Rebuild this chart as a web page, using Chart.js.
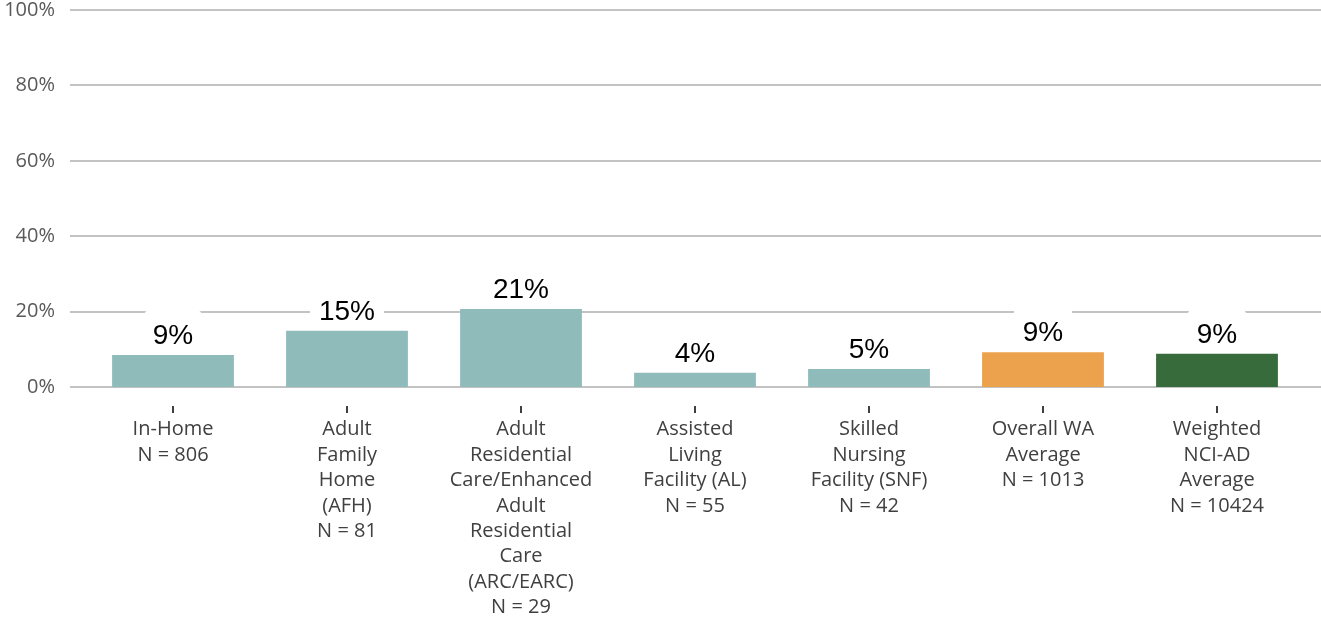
<!DOCTYPE html>
<html>
<head>
<meta charset="utf-8">
<script src="https://cdn.jsdelivr.net/npm/chart.js@4.4.1/dist/chart.umd.min.js"></script>
<style>
  html, body { margin: 0; padding: 0; background: #fff; }
  #wrap { width: 1321px; height: 618px; position: relative; }
</style>
</head>
<body>
<div id="wrap"><canvas id="chart-canvas"></canvas></div>
<script>
// categories (each one split over lines like the original axis)
const categories = [
    ["In-Home", "N = 806"],
    ["Adult", "Family", "Home", "(AFH)", "N = 81"],
    ["Adult", "Residential", "Care/Enhanced", "Adult", "Residential", "Care", "(ARC/EARC)", "N = 29"],
    ["Assisted", "Living", "Facility (AL)", "N = 55"],
    ["Skilled", "Nursing", "Facility (SNF)", "N = 42"],
    ["Overall WA", "Average", "N = 1013"],
    ["Weighted", "NCI-AD", "Average", "N = 10424"]
];

// percent values
const percentValues = [8.5, 14.9, 20.7, 3.8, 4.8, 9.2, 8.8];

const barColors = ["#8fbcbb", "#8fbcbb", "#8fbcbb", "#8fbcbb", "#8fbcbb", "#eca14d", "#386b3b"];

const yTicks = [0, 20, 40, 60, 80, 100];

// grid lines run wider than the plot area, so draw them by hand
const gridLines = {
    id: "gridLines",
    beforeDatasetsDraw(chart) {
        const ctx = chart.ctx;
        const y = chart.scales.y;
        ctx.save();
        ctx.strokeStyle = "#c3c3c3";
        ctx.lineWidth = 2;
        yTicks.forEach(t => {
            const py = Math.round(y.getPixelForValue(t));
            ctx.beginPath();
            ctx.moveTo(70, py);
            ctx.lineTo(chart.width, py);
            ctx.stroke();
        });
        // little tick marks under the axis
        const x = chart.scales.x;
        const bottom = chart.chartArea.bottom;
        ctx.strokeStyle = "#404040";
        ctx.lineWidth = 2;
        categories.forEach((c, i) => {
            const px = Math.round(x.getPixelForTick(i));
            ctx.beginPath();
            ctx.moveTo(px, bottom + 19);
            ctx.lineTo(px, bottom + 26);
            ctx.stroke();
        });
        ctx.restore();
    }
};

const valueLabels = {
    id: "valueLabels",
    afterDatasetsDraw(chart) {
        const ctx = chart.ctx;
        const meta = chart.getDatasetMeta(0);
        ctx.save();
        ctx.font = "28px 'Liberation Sans', Arial, sans-serif";
        ctx.textAlign = "center";
        ctx.textBaseline = "alphabetic";
        meta.data.forEach((bar, i) => {
            const text = Math.round(percentValues[i]) + "%";
            const w = ctx.measureText(text).width;
            const base = bar.y - 11;
            ctx.fillStyle = "#ffffff";
            ctx.beginPath();
            ctx.roundRect(bar.x - w / 2 - 9, base - 34, w + 18, 40, 6);
            ctx.fill();
            ctx.fillStyle = "#000000";
            ctx.fillText(text, bar.x, base);
        });
        ctx.restore();
    }
};

const chart = new Chart(document.getElementById("chart-canvas"), {
    type: "bar",
    data: {
        labels: categories,
        datasets: [{
            data: percentValues,
            backgroundColor: barColors,
            barPercentage: 0.7,
            categoryPercentage: 1.0
        }]
    },
    options: {
        responsive: true,
        maintainAspectRatio: false,
        animation: false,
        layout: { padding: { top: 0, right: 17, left: 0, bottom: 0 } },
        plugins: {
            legend: { display: false },
            tooltip: { enabled: false }
        },
        scales: {
            x: {
                grid: { display: false, drawTicks: false },
                border: { display: false },
                afterFit(scale) { scale.height = 231; },
                ticks: {
                    autoSkip: false,
                    maxRotation: 0,
                    padding: 30,
                    color: "#404040",
                    font: { family: "'Open Sans', sans-serif", size: 20, lineHeight: 1.27 }
                }
            },
            y: {
                min: 0,
                max: 100,
                grid: { display: false, drawTicks: false },
                border: { display: false },
                afterFit(scale) {
                    scale.width = 86;
                    // tick padding also gets added above the plot, undo that
                    scale.paddingTop = 10;
                    scale.paddingBottom = 10;
                },
                ticks: {
                    stepSize: 20,
                    padding: 31,
                    color: "#595959",
                    font: { family: "'Open Sans', sans-serif", size: 20 },
                    callback: v => v + "%"
                }
            }
        }
    },
    plugins: [gridLines, valueLabels]
});
</script>
</body>
</html>
